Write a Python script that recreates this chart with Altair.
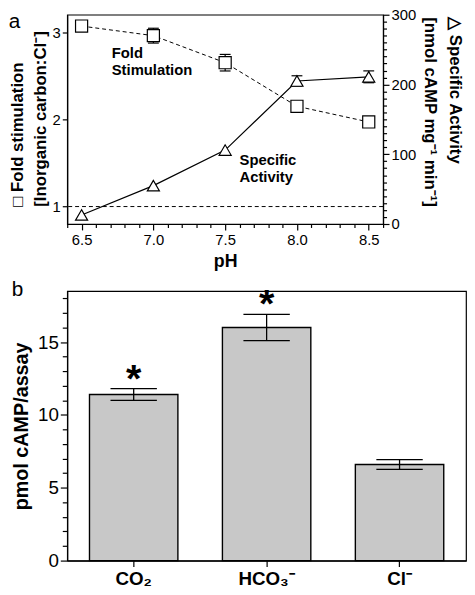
import altair as alt
import pandas as pd

# ---------------- data: panel a ----------------
ph = [6.5, 7.0, 7.5, 8.0, 8.5]
fold = [3.07, 2.96, 2.65, 2.15, 1.97]
fold_err = [0.0, 0.085, 0.095, 0.05, 0.0]
activity = [13, 55, 106, 205, 211]
activity_err = [0, 0, 0, 7.5, 8.5]
reference_fold = [1.0]

ann_text = ["Fold\nStimulation", "Specific\nActivity"]
ann_ph = [6.71, 7.60]
ann_fold = [2.84, 1.61]

# ---------------- data: panel b ----------------
ions = ["CO₂", "HCO₃⁻", "Cl⁻"]
camp = [11.4, 16.0, 6.6]
camp_err = [0.4, 0.9, 0.33]
stars = ["*", "*", ""]

FONT = "Liberation Sans, Arial, Helvetica, sans-serif"
BLACK = "black"
H_A = 212

dfa = pd.DataFrame({"ph": ph, "fold": fold, "fold_err": fold_err,
                    "activity": activity, "activity_err": activity_err})
dfa["fold_lo"] = dfa["fold"] - dfa["fold_err"]
dfa["fold_hi"] = dfa["fold"] + dfa["fold_err"]
dfa["act_lo"] = dfa["activity"] - dfa["activity_err"]
dfa["act_hi"] = dfa["activity"] + dfa["activity_err"]
dfa_err = dfa[dfa["fold_err"] > 0]
dfa_aerr = dfa[dfa["activity_err"] > 0]
dref = pd.DataFrame({"ref": reference_fold})
dann = pd.DataFrame({"text": ann_text, "ph": ann_ph, "fold": ann_fold})

half_test = "abs(datum.value*2 - round(datum.value*2)) < 0.001"
xscale = alt.Scale(domain=[6.4, 8.6], nice=False, zero=False)
xaxis = alt.Axis(
    title="pH", format=".1f",
    values=[round(6.4 + 0.1 * i, 1) for i in range(23)],
    labelExpr=f"({half_test}) ? datum.label : ''",
    tickSize={"condition": {"test": half_test, "value": 6}, "value": 3.5},
    labelOverlap=False, labelFlush=False,
    labelFontSize=15, titleFontSize=18, titleFontWeight="bold",
    labelPadding=3, titlePadding=5,
)
X = alt.X("ph:Q", scale=xscale, axis=xaxis)

fscale = alt.Scale(domain=[0.8, 3.2], nice=False, zero=False)
faxis = alt.Axis(
    title=["□ Fold stimulation", "[Inorganic carbon:Cl⁻]"],
    values=[1, 2, 3], tickSize=5, labelFontSize=15,
    titleFontSize=17, titleFontWeight="bold", titleLineHeight=23,
    titleAlign="left", titleY=H_A - 18,
    labelPadding=2, titlePadding=3,
)

ascale = alt.Scale(domain=[0, 300], nice=False, zero=False)
aaxis = alt.Axis(
    orient="right",
    title=["△ Specific Activity", "[nmol cAMP mg⁻¹ min⁻¹]"],
    values=list(range(0, 301, 10)),
    labelExpr="datum.value % 100 === 0 ? datum.label : ''",
    tickSize={"condition": {"test": "datum.value % 100 === 0", "value": 6}, "value": 3.5},
    labelOverlap=False, labelFontSize=15,
    titleFontSize=17, titleFontWeight="bold", titleLineHeight=25,
    titleAlign="left", titleY=2,
    labelPadding=2, titlePadding=5,
)

ref_line = alt.Chart(dref).mark_rule(color=BLACK, strokeWidth=1, strokeDash=[4, 3]).encode(
    y=alt.Y("ref:Q", scale=fscale, axis=faxis))
fold_line = alt.Chart(dfa).mark_line(color=BLACK, strokeWidth=1, strokeDash=[4, 3]).encode(
    x=X, y=alt.Y("fold:Q", scale=fscale, axis=faxis))
fold_bar = alt.Chart(dfa_err).mark_rule(color=BLACK, strokeWidth=1.2).encode(
    x=X, y=alt.Y("fold_lo:Q", scale=fscale, axis=faxis), y2="fold_hi:Q")
fold_cap_hi = alt.Chart(dfa_err).mark_rule(color=BLACK, strokeWidth=1.2, xOffset=-5.5, x2Offset=5.5).encode(
    x=X, x2="ph:Q", y=alt.Y("fold_hi:Q", scale=fscale, axis=faxis))
fold_cap_lo = alt.Chart(dfa_err).mark_rule(color=BLACK, strokeWidth=1.2, xOffset=-5.5, x2Offset=5.5).encode(
    x=X, x2="ph:Q", y=alt.Y("fold_lo:Q", scale=fscale, axis=faxis))
fold_pts = alt.Chart(dfa).mark_point(shape="square", size=150, filled=True, fill="white",
                                      stroke=BLACK, strokeWidth=1.2, opacity=1).encode(
    x=X, y=alt.Y("fold:Q", scale=fscale, axis=faxis))
ann = alt.Chart(dann).mark_text(align="left", baseline="top", lineBreak="\n", fontSize=15,
                                 fontWeight="bold", font=FONT, color=BLACK, lineHeight=17).encode(
    x=X, y=alt.Y("fold:Q", scale=fscale, axis=faxis), text="text:N")

left = alt.layer(ref_line, fold_line, fold_bar, fold_cap_hi, fold_cap_lo, fold_pts, ann)

act_line = alt.Chart(dfa).mark_line(color=BLACK, strokeWidth=1.2).encode(
    x=X, y=alt.Y("activity:Q", scale=ascale, axis=aaxis))
act_bar = alt.Chart(dfa_aerr).mark_rule(color=BLACK, strokeWidth=1.2).encode(
    x=X, y=alt.Y("act_lo:Q", scale=ascale, axis=aaxis), y2="act_hi:Q")
act_cap_hi = alt.Chart(dfa_aerr).mark_rule(color=BLACK, strokeWidth=1.2, xOffset=-5.5, x2Offset=5.5).encode(
    x=X, x2="ph:Q", y=alt.Y("act_hi:Q", scale=ascale, axis=aaxis))
act_cap_lo = alt.Chart(dfa_aerr).mark_rule(color=BLACK, strokeWidth=1.2, xOffset=-5.5, x2Offset=5.5).encode(
    x=X, x2="ph:Q", y=alt.Y("act_lo:Q", scale=ascale, axis=aaxis))
act_pts = alt.Chart(dfa).mark_point(shape="triangle-up", size=150, filled=True, fill="white",
                                     stroke=BLACK, strokeWidth=1.2, opacity=1).encode(
    x=X, y=alt.Y("activity:Q", scale=ascale, axis=aaxis))

right = alt.layer(act_line, act_bar, act_cap_hi, act_cap_lo, act_pts)

panel_a = alt.layer(left, right).resolve_scale(y="independent").properties(
    width=320, height=H_A,
    title=alt.TitleParams("a", anchor="start", frame="bounds", fontSize=21,
                          fontWeight="normal", font=FONT, color=BLACK, offset=-24),
)

# ---------------- panel b ----------------
dfb = pd.DataFrame({"ion": ions, "camp": camp, "err": camp_err, "star": stars})
dfb["lo"] = dfb["camp"] - dfb["err"]
dfb["hi"] = dfb["camp"] + dfb["err"]

bscale = alt.Scale(domain=[0, 18.5], nice=False, zero=True)
baxis = alt.Axis(
    title="pmol cAMP/assay", values=list(range(0, 19)),
    labelExpr="datum.value % 5 === 0 ? datum.label : ''",
    tickSize={"condition": {"test": "datum.value % 5 === 0", "value": 7}, "value": 5},
    labelOverlap=False, labelFontSize=19, titleFontSize=20, titleFontWeight="bold",
    labelPadding=2, titlePadding=6,
)
Xb = alt.X("ion:N", sort=ions, scale=alt.Scale(paddingInner=0.335, paddingOuter=0.1675),
           axis=alt.Axis(title=None, labelAngle=0, labelFontSize=19, labelFontWeight="bold",
                         tickSize=6, labelPadding=3))

bars = alt.Chart(dfb).mark_bar(fill="#c8c8c8", stroke=BLACK, strokeWidth=1.4).encode(
    x=Xb, y=alt.Y("camp:Q", scale=bscale, axis=baxis))
berr = alt.Chart(dfb).mark_rule(color=BLACK, strokeWidth=1.3).encode(
    x=Xb, y=alt.Y("lo:Q", scale=bscale, axis=baxis), y2="hi:Q")
bcap_hi = alt.Chart(dfb).mark_tick(color=BLACK, size=47, thickness=1.3, opacity=1).encode(
    x=Xb, y=alt.Y("hi:Q", scale=bscale, axis=baxis))
bcap_lo = alt.Chart(dfb).mark_tick(color=BLACK, size=47, thickness=1.3, opacity=1).encode(
    x=Xb, y=alt.Y("lo:Q", scale=bscale, axis=baxis))
bstar = alt.Chart(dfb).mark_text(fontSize=40, fontWeight="bold", font=FONT, color=BLACK,
                                  baseline="alphabetic", dy=3).encode(
    x=Xb, y=alt.Y("hi:Q", scale=bscale, axis=baxis), text="star:N")

panel_b = alt.layer(bars, berr, bcap_hi, bcap_lo, bstar).properties(
    width=404, height=273,
    title=alt.TitleParams("b", anchor="start", frame="bounds", fontSize=21,
                          fontWeight="normal", font=FONT, color=BLACK, offset=-14),
)

chart = alt.vconcat(panel_a, panel_b, spacing=68, bounds="flush").properties(
    padding={"top": -5, "left": 0, "right": 0, "bottom": 0}
).configure_view(
    stroke=BLACK, strokeWidth=1.2
).configure_axis(
    domainColor=BLACK, tickColor=BLACK, labelColor=BLACK, titleColor=BLACK,
    grid=False, labelFont=FONT, titleFont=FONT, domainWidth=1.2, tickWidth=1.2,
)

chart.save("out.html", embed_options={"renderer": "svg", "actions": False})
